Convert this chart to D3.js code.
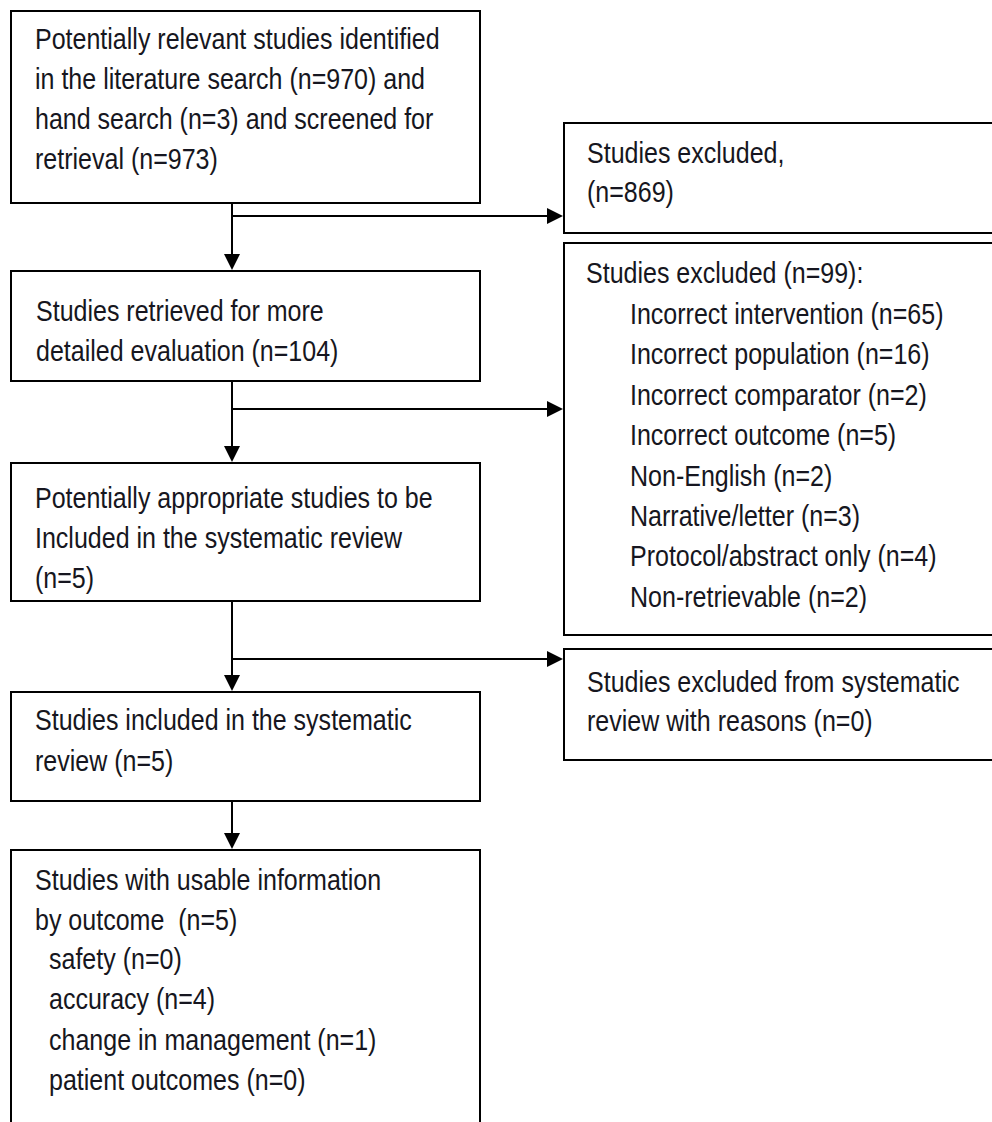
<!DOCTYPE html>
<html>
<head>
<meta charset="utf-8">
<script src="https://cdn.jsdelivr.net/npm/d3@7"></script>
<style>
  html, body { margin: 0; padding: 0; background: #fff; }
  svg { display: block; }
  text { font-family: "Liberation Sans", Arial, sans-serif; font-size: 29.5px; fill: #161620; white-space: pre; }
</style>
</head>
<body>
<svg id="chart" width="992" height="1122"></svg>
<script>
// ---- Data: flow-chart text and counts ----
const identifiedLines = ["Potentially relevant studies identified", "in the literature search (n=970) and", "hand search (n=3) and screened for", "retrieval (n=973)"];
const excludedScreenLines = ["Studies excluded,", "(n=869)"];
const retrievedLines = ["Studies retrieved for more", "detailed evaluation (n=104)"];
const excludedFullTextHeader = ["Studies excluded (n=99):"];
const exclusionReasons = ["Incorrect intervention", "Incorrect population", "Incorrect comparator", "Incorrect outcome", "Non-English", "Narrative/letter", "Protocol/abstract only", "Non-retrievable"];
const exclusionCounts = [65, 16, 2, 5, 2, 3, 4, 2];
const appropriateLines = ["Potentially appropriate studies to be", "Included in the systematic review", "(n=5)"];
const excludedSRLines = ["Studies excluded from systematic", "review with reasons (n=0)"];
const includedLines = ["Studies included in the systematic", "review (n=5)"];
const usableHeader = ["Studies with usable information", "by outcome  (n=5)"];
const outcomeNames = ["safety", "accuracy", "change in management", "patient outcomes"];
const outcomeCounts = [0, 4, 1, 0];

// ---- Layout (positions/styles kept separate from data) ----
const sx = 0.848;           // horizontal condensing of the narrow font
const lineGap = 40;
const L = { x0: 11, x1: 480 };
const R = { x0: 564, x1: 1000 };
const spineX = 232;

const svg = d3.select("#chart");
const gBoxes = svg.append("g");
const gLinks = svg.append("g");
const gText = svg.append("g");

const boxes = [
  { id: "b1", col: L, y0: 11,  y1: 203 },
  { id: "b2", col: L, y0: 271, y1: 381 },
  { id: "b3", col: L, y0: 463, y1: 601 },
  { id: "b4", col: L, y0: 692, y1: 801 },
  { id: "b5", col: L, y0: 850, y1: 1140 },
  { id: "r1", col: R, y0: 123, y1: 233 },
  { id: "r2", col: R, y0: 243, y1: 635 },
  { id: "r3", col: R, y0: 649, y1: 760 }
];
const boxById = Object.fromEntries(boxes.map(b => [b.id, b]));

gBoxes.selectAll("rect").data(boxes).join("rect")
  .attr("x", d => d.col.x0)
  .attr("y", d => d.y0)
  .attr("width", d => d.col.x1 - d.col.x0)
  .attr("height", d => d.y1 - d.y0)
  .attr("fill", "#fff")
  .attr("stroke", "#000")
  .attr("stroke-width", 2);

// text blocks
const reasonLines = exclusionReasons.map((r, i) => `${r} (n=${exclusionCounts[i]})`);
const outcomeLines = outcomeNames.map((o, i) => `${o} (n=${outcomeCounts[i]})`);

const blocks = [
  { lines: identifiedLines, x: 35, y: 49, gap: lineGap },
  { lines: excludedScreenLines, x: 587, y: 163, gap: 39 },
  { lines: retrievedLines, x: 36, y: 321, gap: lineGap },
  { lines: excludedFullTextHeader, x: 586, y: 283, gap: lineGap },
  { lines: reasonLines, x: 630, y: 324, gap: 40.4 },
  { lines: appropriateLines, x: 35, y: 508, gap: lineGap },
  { lines: excludedSRLines, x: 587, y: 692, gap: 39 },
  { lines: includedLines, x: 35, y: 730, gap: 41 },
  { lines: usableHeader, x: 35, y: 890, gap: lineGap },
  { lines: outcomeLines, x: 49, y: 969, gap: 40.3 }
];
const textItems = [];
blocks.forEach(b => b.lines.forEach((t, i) => textItems.push({ t, x: b.x, y: b.y + i * b.gap })));

gText.selectAll("text").data(textItems).join("text")
  .attr("transform", d => `translate(${d.x},${d.y}) scale(${sx},1)`)
  .text(d => d.t);

// connectors
const line = d3.line();
const ah = 16, aw = 8; // arrowhead length / half-width

function downArrow(x, yStart, yEnd) {
  gLinks.append("path").attr("d", line([[x, yStart], [x, yEnd - ah + 1]]))
    .attr("stroke", "#000").attr("stroke-width", 2).attr("fill", "none");
  gLinks.append("path").attr("d", line([[x - aw, yEnd - ah], [x + aw, yEnd - ah], [x, yEnd]]) + "Z")
    .attr("fill", "#000");
}
function rightArrow(y, xStart, xEnd) {
  gLinks.append("path").attr("d", line([[xStart, y], [xEnd - ah + 1, y]]))
    .attr("stroke", "#000").attr("stroke-width", 2).attr("fill", "none");
  gLinks.append("path").attr("d", line([[xEnd - ah, y - aw], [xEnd - ah, y + aw], [xEnd, y]]) + "Z")
    .attr("fill", "#000");
}

const verticals = [["b1", "b2"], ["b2", "b3"], ["b3", "b4"], ["b4", "b5"]];
verticals.forEach(([a, b]) => downArrow(spineX, boxById[a].y1, boxById[b].y0 - 1));

const branches = [
  { y: 216, to: "r1" },
  { y: 409, to: "r2" },
  { y: 659, to: "r3" }
];
branches.forEach(br => rightArrow(br.y, spineX, boxById[br.to].col.x0 - 1));
</script>
</body>
</html>
